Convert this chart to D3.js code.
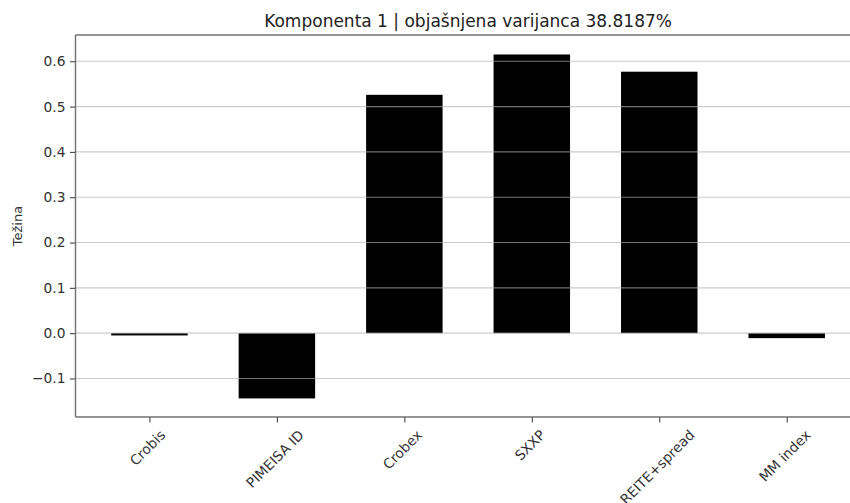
<!DOCTYPE html>
<html><head><meta charset="utf-8">
<script src="https://cdn.jsdelivr.net/npm/d3@7"></script>
<style>body{margin:0;background:#fff;}svg{display:block;font-family:"DejaVu Sans",sans-serif;}</style>
</head><body>
<svg id="chart" width="850" height="503"></svg>
<script>
const categories = ["Crobis", "PIMEISA ID", "Crobex", "SXXP", "REITE+spread", "MM index"];
const weights = [-0.005, -0.144, 0.526, 0.615, 0.577, -0.011];
const yTicks = [-0.1, 0.0, 0.1, 0.2, 0.3, 0.4, 0.5, 0.6];
const titleText = "Komponenta 1 | objašnjena varijanca 38.8187%";
const yLabel = "Težina";

(function () {
const svg = d3.select("#chart");
const pLeft = 75.5, pTop = 35, pBottom = 417;
const unit = 127.46;
const barWidth = 0.6;
const tickLen = 5.5;
const x = d3.scaleLinear().domain([-0.58, categories.length - 1 + 0.58])
  .range([pLeft, pLeft + (categories.length - 1 + 1.16) * unit]);
const y = d3.scaleLinear().domain([-0.185, 0.658]).range([pBottom, pTop]);
const pRight = x.range()[1];

// bars
svg.append("g").selectAll("rect").data(weights).join("rect")
  .attr("x", (d, i) => x(i - barWidth / 2))
  .attr("width", x(barWidth) - x(0))
  .attr("y", d => y(Math.max(0, d)))
  .attr("height", d => Math.abs(y(d) - y(0)))
  .attr("fill", "#000");

// grid (drawn above bars)
svg.append("g").selectAll("line").data(yTicks).join("line")
  .attr("x1", pLeft).attr("x2", pRight)
  .attr("y1", d => y(d)).attr("y2", d => y(d))
  .attr("stroke", "#b0b0b0").attr("stroke-opacity", 0.65).attr("stroke-width", 1.1);

// y axis
const yAxis = d3.axisLeft(y).tickValues(yTicks).tickSize(tickLen).tickPadding(4.5)
  .tickFormat(d => d3.format(".1f")(d).replace("-", "\u2212"));
const gy = svg.append("g").attr("transform", `translate(${pLeft},0)`).call(yAxis);
gy.select(".domain").remove();
gy.selectAll(".tick line").attr("stroke", "#444").attr("stroke-width", 1.1);
gy.selectAll(".tick text").attr("fill", "#333").style("font-size", "13.8px").style("font-family", "DejaVu Sans");

// x axis
const xAxis = d3.axisBottom(x).tickValues(d3.range(categories.length)).tickSize(tickLen).tickFormat("");
const gx = svg.append("g").attr("transform", `translate(0,${pBottom})`).call(xAxis);
gx.select(".domain").remove();
gx.selectAll(".tick line").attr("stroke", "#444").attr("stroke-width", 1.1);

// rotated x labels
const fs = 13.8;
const lab = svg.append("g").selectAll("text").data(categories).join("text")
  .text(d => d)
  .attr("fill", "#333").style("font-size", fs + "px")
  .attr("text-anchor", "middle").attr("dominant-baseline", "central");
lab.each(function(d, i) {
  const w = this.getComputedTextLength();
  const h = fs * 1.0;
  const half = (w + h) / (2 * Math.SQRT2);
  const cx = x(i) - 2, cy = pBottom + tickLen + 5 + half;
  d3.select(this).attr("transform", `translate(${cx},${cy}) rotate(-45)`);
});

// spines
const spine = (x1, y1, x2, y2) => svg.append("line").attr("x1", x1).attr("y1", y1)
  .attr("x2", x2).attr("y2", y2).attr("stroke", "#707070").attr("stroke-width", 1.4);
spine(pLeft, pTop, pLeft, pBottom);
spine(pLeft, pBottom, pRight, pBottom);
spine(pLeft, pTop, pRight, pTop);
spine(pRight, pTop, pRight, pBottom);

// title
svg.append("text").attr("x", (pLeft + pRight) / 2).attr("y", 27)
  .attr("text-anchor", "middle").attr("fill", "#222").style("font-size", "17px")
  .text(titleText);

// y label
svg.append("text").attr("transform", `translate(22,${(pTop + pBottom) / 2}) rotate(-90)`)
  .attr("text-anchor", "middle").attr("fill", "#333").style("font-size", "13px")
  .text(yLabel);
})();
</script>
</body></html>
